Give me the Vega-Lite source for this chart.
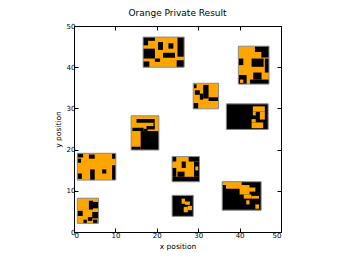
{
  "$schema": "https://vega.github.io/schema/vega-lite/v6.json",
  "width": 207,
  "height": 206,
  "autosize": {"type": "none"},
  "padding": {"left": 74, "top": 26, "right": 65, "bottom": 27},
  "background": "white",
  "title": {"text": "Orange Private Result", "font": "DejaVu Sans", "fontSize": 9, "fontWeight": "normal", "color": "black", "offset": 4},
  "config": {
    "view": {"stroke": "black", "strokeWidth": 1},
    "axis": {"labelFont": "DejaVu Sans", "labelFontSize": 7, "titleFont": "DejaVu Sans", "titleFontSize": 7.5, "titleFontWeight": "normal", "domainColor": "black", "tickColor": "black", "labelColor": "black", "titleColor": "black", "grid": false, "tickSize": -4, "labelPadding": 3}
  },
  "datasets": {
    "blocks": [
      {"id": "A", "x0": 16.7, "x1": 26.6, "y0": 40.0, "y1": 47.3, "bg": "orange"},
      {"id": "B", "x0": 39.7, "x1": 47.1, "y0": 35.9, "y1": 45.1, "bg": "orange"},
      {"id": "C", "x0": 28.8, "x1": 34.9, "y0": 29.9, "y1": 36.1, "bg": "orange"},
      {"id": "D", "x0": 36.8, "x1": 46.9, "y0": 24.9, "y1": 31.1, "bg": "black"},
      {"id": "E", "x0": 13.8, "x1": 20.5, "y0": 19.9, "y1": 28.2, "bg": "orange"},
      {"id": "F", "x0": 0.8, "x1": 10.1, "y0": 12.6, "y1": 19.1, "bg": "orange"},
      {"id": "G", "x0": 23.7, "x1": 30.3, "y0": 12.2, "y1": 18.3, "bg": "orange"},
      {"id": "H", "x0": 0.8, "x1": 5.9, "y0": 2.1, "y1": 8.2, "bg": "orange"},
      {"id": "I", "x0": 23.7, "x1": 28.8, "y0": 3.8, "y1": 8.9, "bg": "black"},
      {"id": "J", "x0": 35.8, "x1": 45.2, "y0": 5.3, "y1": 12.2, "bg": "black"}
    ],
    "patches": [
      {"id": "A", "x0": 16.7, "x1": 17.9, "y0": 45.3, "y1": 47.3, "v": "black"},
      {"id": "A", "x0": 17.9, "x1": 19.55, "y0": 46.4, "y1": 47.3, "v": "black"},
      {"id": "A", "x0": 20.3, "x1": 21.5, "y0": 44.2, "y1": 46.1, "v": "black"},
      {"id": "A", "x0": 22.8, "x1": 24.0, "y0": 44.5, "y1": 45.8, "v": "black"},
      {"id": "A", "x0": 25.0, "x1": 26.6, "y0": 42.55, "y1": 47.3, "v": "black"},
      {"id": "A", "x0": 16.7, "x1": 19.55, "y0": 42.1, "y1": 44.5, "v": "black"},
      {"id": "A", "x0": 21.5, "x1": 24.4, "y0": 42.3, "y1": 43.5, "v": "black"},
      {"id": "A", "x0": 19.55, "x1": 20.8, "y0": 41.3, "y1": 42.1, "v": "black"},
      {"id": "A", "x0": 16.7, "x1": 18.2, "y0": 40.0, "y1": 41.4, "v": "black"},
      {"id": "A", "x0": 24.8, "x1": 26.6, "y0": 40.0, "y1": 41.7, "v": "black"},
      {"id": "B", "x0": 43.7, "x1": 47.1, "y0": 43.7, "y1": 45.1, "v": "black"},
      {"id": "B", "x0": 45.25, "x1": 47.1, "y0": 42.35, "y1": 43.7, "v": "black"},
      {"id": "B", "x0": 39.7, "x1": 40.9, "y0": 40.5, "y1": 42.1, "v": "black"},
      {"id": "B", "x0": 42.9, "x1": 45.8, "y0": 40.1, "y1": 42.1, "v": "black"},
      {"id": "B", "x0": 46.1, "x1": 47.1, "y0": 38.7, "y1": 42.1, "v": "black"},
      {"id": "B", "x0": 39.7, "x1": 41.7, "y0": 35.9, "y1": 38.1, "v": "black"},
      {"id": "B", "x0": 43.3, "x1": 45.3, "y0": 37.0, "y1": 38.7, "v": "black"},
      {"id": "B", "x0": 42.5, "x1": 47.1, "y0": 35.9, "y1": 37.0, "v": "black"},
      {"id": "B", "x0": 40.1, "x1": 40.9, "y0": 36.2, "y1": 37.0, "v": "orange"},
      {"id": "C", "x0": 29.0, "x1": 29.6, "y0": 34.9, "y1": 35.85, "v": "black"},
      {"id": "C", "x0": 31.2, "x1": 32.5, "y0": 32.4, "y1": 35.7, "v": "black"},
      {"id": "C", "x0": 30.4, "x1": 31.2, "y0": 32.1, "y1": 33.6, "v": "black"},
      {"id": "C", "x0": 29.2, "x1": 30.4, "y0": 33.3, "y1": 34.4, "v": "black"},
      {"id": "C", "x0": 32.5, "x1": 34.9, "y0": 31.8, "y1": 32.7, "v": "black"},
      {"id": "C", "x0": 28.8, "x1": 30.0, "y0": 29.9, "y1": 31.3, "v": "black"},
      {"id": "D", "x0": 43.2, "x1": 46.1, "y0": 29.2, "y1": 30.5, "v": "orange"},
      {"id": "D", "x0": 44.9, "x1": 46.1, "y0": 27.3, "y1": 29.2, "v": "orange"},
      {"id": "D", "x0": 43.2, "x1": 43.9, "y0": 28.3, "y1": 29.2, "v": "orange"},
      {"id": "D", "x0": 42.9, "x1": 45.7, "y0": 25.2, "y1": 26.6, "v": "orange"},
      {"id": "D", "x0": 42.9, "x1": 43.9, "y0": 26.6, "y1": 27.4, "v": "orange"},
      {"id": "E", "x0": 15.1, "x1": 19.5, "y0": 26.5, "y1": 27.4, "v": "black"},
      {"id": "E", "x0": 19.2, "x1": 19.5, "y0": 25.3, "y1": 26.5, "v": "black"},
      {"id": "E", "x0": 14.1, "x1": 16.8, "y0": 24.5, "y1": 25.3, "v": "black"},
      {"id": "E", "x0": 17.5, "x1": 19.5, "y0": 24.9, "y1": 25.7, "v": "black"},
      {"id": "E", "x0": 16.1, "x1": 20.5, "y0": 19.9, "y1": 24.5, "v": "black"},
      {"id": "E", "x0": 13.8, "x1": 16.1, "y0": 19.9, "y1": 20.7, "v": "black"},
      {"id": "E", "x0": 16.8, "x1": 17.8, "y0": 24.5, "y1": 25.05, "v": "black"},
      {"id": "F", "x0": 0.8, "x1": 2.2, "y0": 18.1, "y1": 19.1, "v": "black"},
      {"id": "F", "x0": 3.6, "x1": 5.0, "y0": 17.8, "y1": 18.8, "v": "black"},
      {"id": "F", "x0": 0.8, "x1": 1.7, "y0": 16.8, "y1": 17.8, "v": "black"},
      {"id": "F", "x0": 9.2, "x1": 10.1, "y0": 17.8, "y1": 19.1, "v": "black"},
      {"id": "F", "x0": 9.2, "x1": 10.1, "y0": 12.6, "y1": 16.2, "v": "black"},
      {"id": "F", "x0": 3.9, "x1": 5.0, "y0": 12.6, "y1": 15.2, "v": "black"},
      {"id": "F", "x0": 0.8, "x1": 1.9, "y0": 12.9, "y1": 14.2, "v": "black"},
      {"id": "F", "x0": 6.8, "x1": 7.8, "y0": 14.2, "y1": 15.2, "v": "black"},
      {"id": "G", "x0": 23.7, "x1": 24.7, "y0": 17.1, "y1": 18.3, "v": "black"},
      {"id": "G", "x0": 27.7, "x1": 30.3, "y0": 17.1, "y1": 18.3, "v": "black"},
      {"id": "G", "x0": 26.0, "x1": 27.0, "y0": 15.55, "y1": 17.1, "v": "black"},
      {"id": "G", "x0": 23.7, "x1": 24.7, "y0": 13.4, "y1": 15.55, "v": "black"},
      {"id": "G", "x0": 25.0, "x1": 26.7, "y0": 13.4, "y1": 14.65, "v": "black"},
      {"id": "G", "x0": 23.7, "x1": 30.3, "y0": 12.2, "y1": 13.4, "v": "black"},
      {"id": "G", "x0": 29.0, "x1": 30.3, "y0": 13.4, "y1": 17.1, "v": "black"},
      {"id": "G", "x0": 29.3, "x1": 30.0, "y0": 14.95, "y1": 15.9, "v": "orange"},
      {"id": "H", "x0": 3.6, "x1": 4.6, "y0": 5.45, "y1": 7.6, "v": "black"},
      {"id": "H", "x0": 4.6, "x1": 5.9, "y0": 5.75, "y1": 7.3, "v": "black"},
      {"id": "H", "x0": 0.8, "x1": 2.1, "y0": 3.9, "y1": 5.15, "v": "black"},
      {"id": "H", "x0": 4.4, "x1": 5.9, "y0": 3.3, "y1": 4.85, "v": "black"},
      {"id": "H", "x0": 3.35, "x1": 4.4, "y0": 2.7, "y1": 3.6, "v": "black"},
      {"id": "H", "x0": 4.6, "x1": 5.65, "y0": 2.1, "y1": 3.0, "v": "black"},
      {"id": "H", "x0": 2.3, "x1": 3.1, "y0": 2.1, "y1": 3.0, "v": "black"},
      {"id": "I", "x0": 26.0, "x1": 26.8, "y0": 6.85, "y1": 8.1, "v": "orange"},
      {"id": "I", "x0": 26.8, "x1": 28.0, "y0": 6.6, "y1": 7.4, "v": "orange"},
      {"id": "I", "x0": 26.5, "x1": 27.5, "y0": 4.8, "y1": 6.1, "v": "orange"},
      {"id": "I", "x0": 27.5, "x1": 28.5, "y0": 5.3, "y1": 6.35, "v": "orange"},
      {"id": "J", "x0": 35.8, "x1": 40.5, "y0": 11.4, "y1": 12.2, "v": "orange"},
      {"id": "J", "x0": 36.7, "x1": 40.5, "y0": 10.5, "y1": 11.4, "v": "orange"},
      {"id": "J", "x0": 40.0, "x1": 42.4, "y0": 9.1, "y1": 11.4, "v": "orange"},
      {"id": "J", "x0": 41.0, "x1": 42.85, "y0": 8.1, "y1": 9.1, "v": "orange"},
      {"id": "J", "x0": 41.9, "x1": 43.8, "y0": 9.8, "y1": 10.8, "v": "orange"},
      {"id": "J", "x0": 42.85, "x1": 44.7, "y0": 8.1, "y1": 8.75, "v": "orange"},
      {"id": "J", "x0": 43.8, "x1": 44.7, "y0": 5.65, "y1": 6.7, "v": "orange"},
      {"id": "J", "x0": 41.6, "x1": 42.4, "y0": 6.7, "y1": 7.7, "v": "orange"}
    ]
  },
  "layer": [
    {
      "data": {"name": "blocks"},
      "mark": {"type": "rect"},
      "encoding": {
        "x": {"field": "x0", "type": "quantitative", "scale": {"domain": [0, 50], "nice": false, "zero": false}, "axis": {"title": "x position", "values": [0, 10, 20, 30, 40, 50], "orient": "bottom"}},
        "x2": {"field": "x1"},
        "y": {"field": "y0", "type": "quantitative", "scale": {"domain": [0, 50], "nice": false, "zero": false}, "axis": {"title": "y position", "values": [0, 10, 20, 30, 40, 50], "orient": "left", "labelAngle": 0}},
        "y2": {"field": "y1"},
        "color": {"field": "bg", "type": "nominal", "scale": {"domain": ["orange", "black"], "range": ["#FFA500", "#000000"]}, "legend": null}
      }
    },
    {
      "data": {"name": "patches"},
      "mark": {"type": "rect"},
      "encoding": {
        "x": {"field": "x0", "type": "quantitative", "axis": null},
        "x2": {"field": "x1"},
        "y": {"field": "y0", "type": "quantitative", "axis": null},
        "y2": {"field": "y1"},
        "color": {"field": "v", "type": "nominal", "scale": {"domain": ["orange", "black"], "range": ["#FFA500", "#000000"]}, "legend": null}
      }
    },
    {
      "data": {"name": "blocks"},
      "mark": {"type": "rect", "fill": null, "filled": false, "stroke": "#8a8a8a", "strokeWidth": 1},
      "encoding": {
        "x": {"field": "x0", "type": "quantitative", "axis": null},
        "x2": {"field": "x1"},
        "y": {"field": "y0", "type": "quantitative", "axis": null},
        "y2": {"field": "y1"}
      }
    },
    {
      "data": {"name": "blocks"},
      "mark": {"type": "rect", "opacity": 0},
      "encoding": {
        "x": {"field": "x0", "type": "quantitative", "axis": {"orient": "top", "labels": false, "title": null, "values": [0, 10, 20, 30, 40, 50]}},
        "x2": {"field": "x1"},
        "y": {"field": "y0", "type": "quantitative", "axis": {"orient": "right", "labels": false, "title": null, "values": [0, 10, 20, 30, 40, 50]}},
        "y2": {"field": "y1"}
      }
    }
  ],
  "resolve": {"axis": {"x": "independent", "y": "independent"}}
}
